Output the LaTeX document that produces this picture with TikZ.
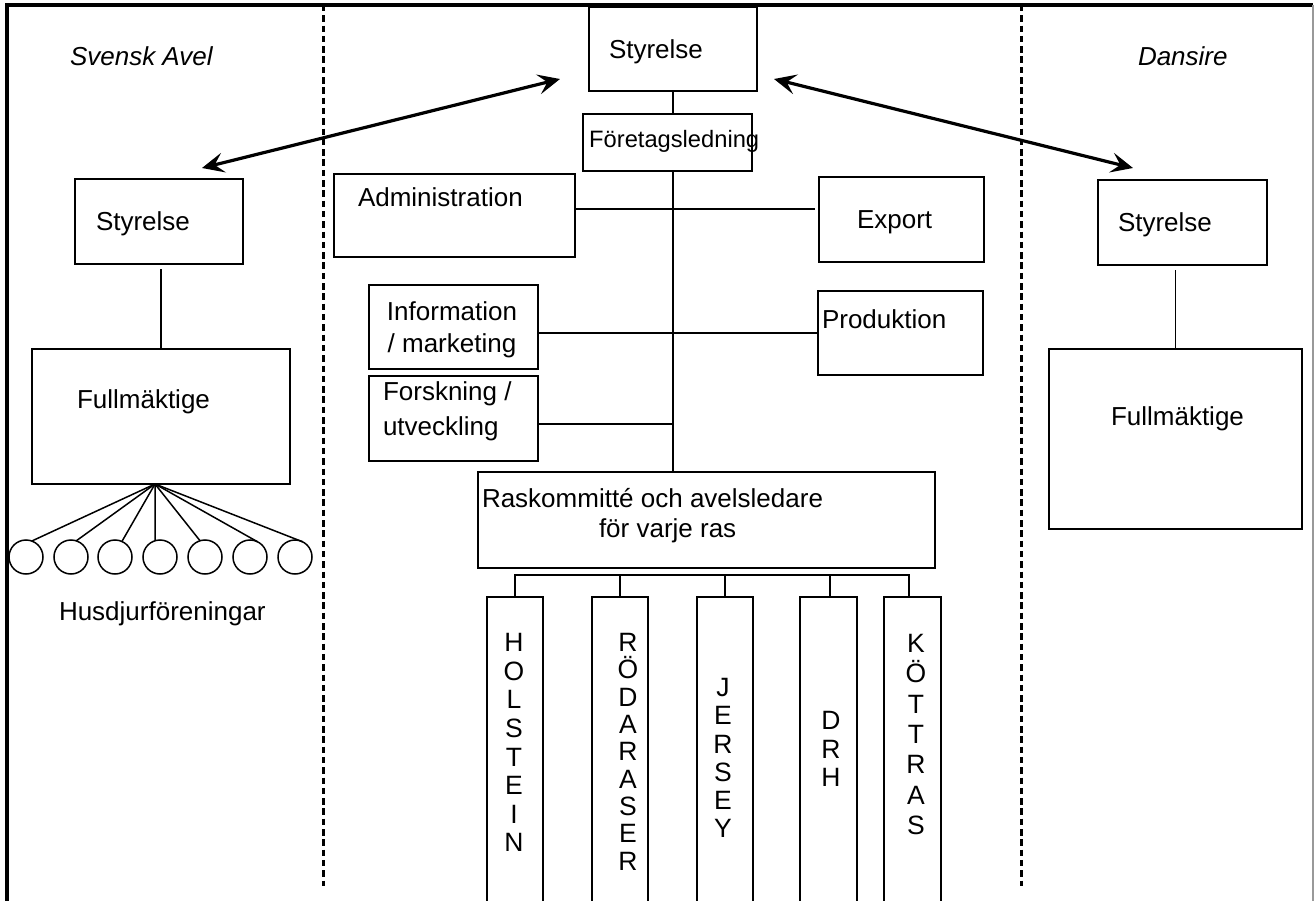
\documentclass[tikz,border=0pt]{standalone}
\usepackage{fontspec}
\setmainfont{Liberation Sans}
\usetikzlibrary{arrows.meta,calc}
\newcommand{\bx}[5]{\node[box,minimum width={#4-#2},minimum height={#5-#3}] (#1) at ({(#2+#4)/2},{(#3+#5)/2}) {};}
\tikzset{
  box/.style={draw, rectangle, line width=1.6pt, inner sep=0pt, outer sep=0pt},
  txt/.style={inner sep=0pt, outer sep=0pt, font=\fontsize{26}{30}\selectfont},
  itxt/.style={txt, font=\fontsize{26}{30}\selectfont\itshape},
  con/.style={line width=1.5pt},
  dbl/.style={line width=3.2pt, {Stealth[length=22pt,width=20pt,inset=9pt]}-{Stealth[length=22pt,width=20pt,inset=9pt]}},
  divider/.style={line width=3pt, dash pattern=on 6.5pt off 3.8pt},
  vtxt/.style={inner sep=0pt, outer sep=0pt, align=center, anchor=north},
  circ/.style={circle, draw, line width=1.5pt, minimum size=34pt, inner sep=0pt, outer sep=0pt}
}
\begin{document}
\begin{tikzpicture}[x=1pt,y=-1pt]
\useasboundingbox (0,0) rectangle (1314,901);
\clip (0,0) rectangle (1314,901);
\fill[white] (0,0) rectangle (1314,901);

% frame
\draw[line width=3.2pt] (7,905) -- (7,5) -- (1313,5);
\draw[line width=1.2pt, black!40] (1313,5) -- (1313,905);

% dividers
\draw[divider] (323.5,5) -- (323.5,886);
\draw[divider] (1021,5) -- (1021,886);

% headings
\node[itxt, anchor=base west] (hsa) at (70,66) {Svensk Avel};
\node[itxt, anchor=base west] (hda) at (1138,66) {Dansire};

% centre column boxes
\bx{tsty}{589}{7}{757}{91}
\bx{fl}{583}{114}{752}{171}
\bx{adm}{334}{174}{575}{257}
\bx{exp}{819}{177}{984}{262}
\bx{info}{369}{285}{538}{369}
\bx{prod}{818}{291}{983}{375}
\bx{fors}{369}{376}{538}{461}
\bx{ras}{478}{472}{935}{568}

\node[txt, anchor=base west] (ttsty) at (609,59) {Styrelse};
\node[inner sep=0pt, font=\fontsize{23.7}{28}\selectfont, anchor=base west] (tfl) at (589,148) {Företagsledning};
\node[txt, anchor=base west] (tadm) at (358,207) {Administration};
\node[txt, anchor=base west] (texp) at (857,229) {Export};
\node[txt, anchor=base west] (tprod) at (822,328) {Produktion};
\node[txt, align=center, anchor=north, font=\fontsize{26}{32}\selectfont] (tinfo) at (452,302) {Information\\/ marketing};
\node[txt, align=left, anchor=north west, font=\fontsize{26}{35}\selectfont] (tfors) at (383,381.4) {Forskning /\\utveckling};
\node[txt, anchor=base west] (tras1) at (482,507) {Raskommitté och avelsledare};
\node[txt, anchor=base west] (tras2) at (599,537) {för varje ras};

% breed boxes
\bx{hol}{487}{597}{543}{910}
\bx{rod}{592}{597}{648}{910}
\bx{jer}{697}{597}{753}{910}
\bx{drh}{800}{597}{857}{910}
\bx{kot}{884}{597}{941}{910}

\node[vtxt, font=\fontsize{26.5}{28.6}\selectfont] (thol) at (514,633.4) {H\\O\\L\\S\\T\\E\\I\\N};
\node[vtxt, font=\fontsize{26.5}{27.3}\selectfont] (trod) at (628,633.4) {R\\Ö\\D\\A\\R\\A\\S\\E\\R};
\node[vtxt, font=\fontsize{26.5}{28.2}\selectfont] (tjer) at (723,678.4) {J\\E\\R\\S\\E\\Y};
\node[vtxt, font=\fontsize{26.5}{28.5}\selectfont] (tdrh) at (831,711.4) {D\\R\\H};
\node[vtxt, font=\fontsize{26.5}{30.3}\selectfont] (tkot) at (916,634.4) {K\\Ö\\T\\T\\R\\A\\S};

% centre connectors
\draw[con] (tsty.south) -- (tsty.south |- fl.north);
\draw[con] (fl.south -| tsty.south) -- (ras.north -| tsty.south);
\coordinate (admR) at ([yshift=6.5pt]adm.east);
\draw[con] (admR) -- ($(admR -| exp.west)+(-4,0)$);
\draw[con] (prod.west -| info.east) -- (prod.west);
\coordinate (forsR) at ([yshift=-5.5pt]fors.east);
\draw[con] (forsR) -- (forsR -| tsty.south);
\coordinate (bus) at (700,575);
\draw[con] (hol.north) |- ($(bus -| kot.north)+(-3.5,0)$) -- ($(kot.north)+(-3.5,0)$);
\draw[con] (rod.north) -- (rod.north |- bus);
\draw[con] (jer.north) -- (jer.north |- bus);
\draw[con] ([xshift=1.5pt]drh.north) -- ([xshift=1.5pt]drh.north |- bus);

% left column
\bx{lsty}{75}{179}{243}{264}
\bx{lful}{32}{349}{290}{484}
\node[txt, anchor=base west] (tlsty) at (96,231) {Styrelse};
\node[txt, anchor=base west] (tlful) at (77,408) {Fullmäktige};
\draw[con] (lful.north) -- ($(lful.north |- lsty.south)+(0,5)$);
\foreach \i/\x in {1/26,2/71,3/115,4/160,5/205,6/250,7/295}{
  \node[circ] (c\i) at (\x,557) {};
}
\coordinate (fan) at ([xshift=-6pt]lful.south);
\foreach \i/\a in {1/70,2/72,3/66,4/107,5/107,6/64,7/64}{
  \draw[con] (fan) -- (c\i.\a);
}
\node[txt, anchor=base west] (thus) at (59,620) {Husdjurföreningar};

% right column
\bx{rsty}{1098}{180}{1267}{265}
\bx{rful}{1049}{349}{1302}{529}
\node[txt, anchor=base west] (trsty) at (1118,232) {Styrelse};
\node[txt, anchor=base west] (trful) at (1111,425) {Fullmäktige};
\draw[con] (rful.north) -- ($(rful.north |- rsty.south)+(0,5)$);

% arrows
\coordinate (aL) at (202,168);
\coordinate (aTL) at (560,79);
\coordinate (aTR) at (774,79);
\coordinate (aR) at (1133,168);
\draw[dbl] (aL) -- (aTL);
\draw[dbl] (aTR) -- (aR);
\end{tikzpicture}
\end{document}
